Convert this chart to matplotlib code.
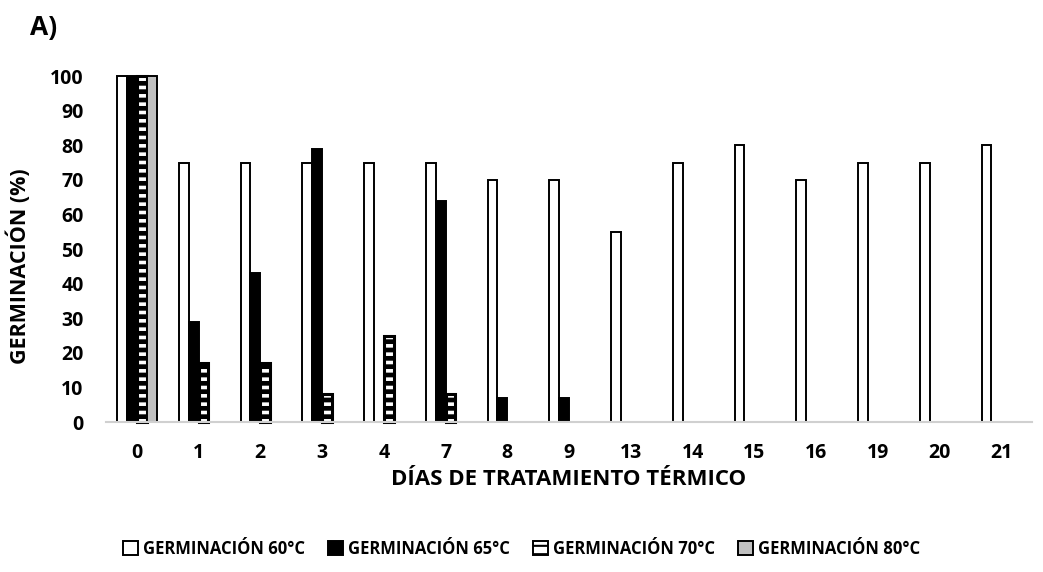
import numpy as np
import matplotlib.pyplot as plt
from matplotlib.patches import Patch

dias = ['0', '1', '2', '3', '4', '7', '8', '9', '13', '14', '15', '16', '19', '20', '21']
germ_60 = [100, 75, 75, 75, 75, 75, 70, 70, 55, 75, 80, 70, 75, 75, 80]
germ_65 = [100, 29, 43, 79, 0, 64, 7, 7, 0, 0, 0, 0, 0, 0, 0]
germ_70 = [100, 17, 17, 8, 25, 8, 0, 0, 0, 0, 0, 0, 0, 0, 0]
germ_80 = [100, 0, 0, 0, 0, 0, 0, 0, 0, 0, 0, 0, 0, 0, 0]

plt.rcParams['font.family'] = ['Open Sans', 'DejaVu Sans']
plt.rcParams['font.weight'] = 'bold'
plt.rcParams['hatch.linewidth'] = 2.6

fig = plt.figure(figsize=(10.43, 5.72), dpi=100)
ax = fig.add_axes([0.1016, 0.262, 0.888, 0.605])

x = np.arange(len(dias))
w = 0.16
off = [-1.5 * w, -0.5 * w, 0.5 * w, 1.5 * w]


def edges(vals):
    # no outline for empty bars
    return ['black' if v > 0 else 'none' for v in vals]


ax.bar(x + off[0], germ_60, w, color='white', edgecolor=edges(germ_60), linewidth=1.4, clip_on=False)
ax.bar(x + off[1], germ_65, w, color='black', edgecolor=edges(germ_65), linewidth=1.4, clip_on=False)
ax.bar(x + off[2], germ_70, w, color='black', edgecolor='white', hatch='--', linewidth=0, clip_on=False)
ax.bar(x + off[2], germ_70, w, fill=False, edgecolor=edges(germ_70), linewidth=2.2, clip_on=False)
ax.bar(x + off[3], germ_80, w, color='#c0c0c0', edgecolor=edges(germ_80), linewidth=1.4, clip_on=False)

ax.set_xlim(-0.5, len(dias) - 0.5)
ax.set_ylim(0, 100)
ax.set_yticks(range(0, 101, 10))
ax.set_xticks(x)
ax.set_xticklabels(dias)
ax.tick_params(axis='both', length=0, labelsize=14)
ax.tick_params(axis='x', pad=15)
ax.tick_params(axis='y', pad=16)
for s in ['top', 'right', 'left']:
    ax.spines[s].set_visible(False)
ax.spines['bottom'].set_color('#d0d0d0')
ax.spines['bottom'].set_linewidth(1.5)

ax.set_ylabel('GERMINACIÓN (%)', fontsize=15.5, fontweight='bold')
ax.yaxis.set_label_coords(-0.081, 0.45)
ax.set_xlabel('DÍAS DE TRATAMIENTO TÉRMICO', fontsize=16, fontweight='bold')
ax.xaxis.set_label_coords(0.5, -0.135)
fig.text(0.029, 0.952, 'A)', fontsize=19, fontweight='bold', va='center')

plt.rcParams['hatch.linewidth'] = 1.5
handles = [
    Patch(facecolor='white', edgecolor='black', linewidth=1.4),
    Patch(facecolor='black', edgecolor='black', linewidth=1.4),
    Patch(facecolor='white', edgecolor='black', hatch='--', linewidth=1.4),
    Patch(facecolor='#c0c0c0', edgecolor='black', linewidth=1.4),
]
labels = ['GERMINACIÓN 60°C', 'GERMINACIÓN 65°C', 'GERMINACIÓN 70°C', 'GERMINACIÓN 80°C']
leg = fig.legend(handles, labels, loc='center', bbox_to_anchor=(0.5, 0.04), ncol=4, frameon=False,
                 fontsize=12, handlelength=0.9, handleheight=0.9, handletextpad=0.3, columnspacing=1.4)

fig.savefig('out.png', dpi=100)
